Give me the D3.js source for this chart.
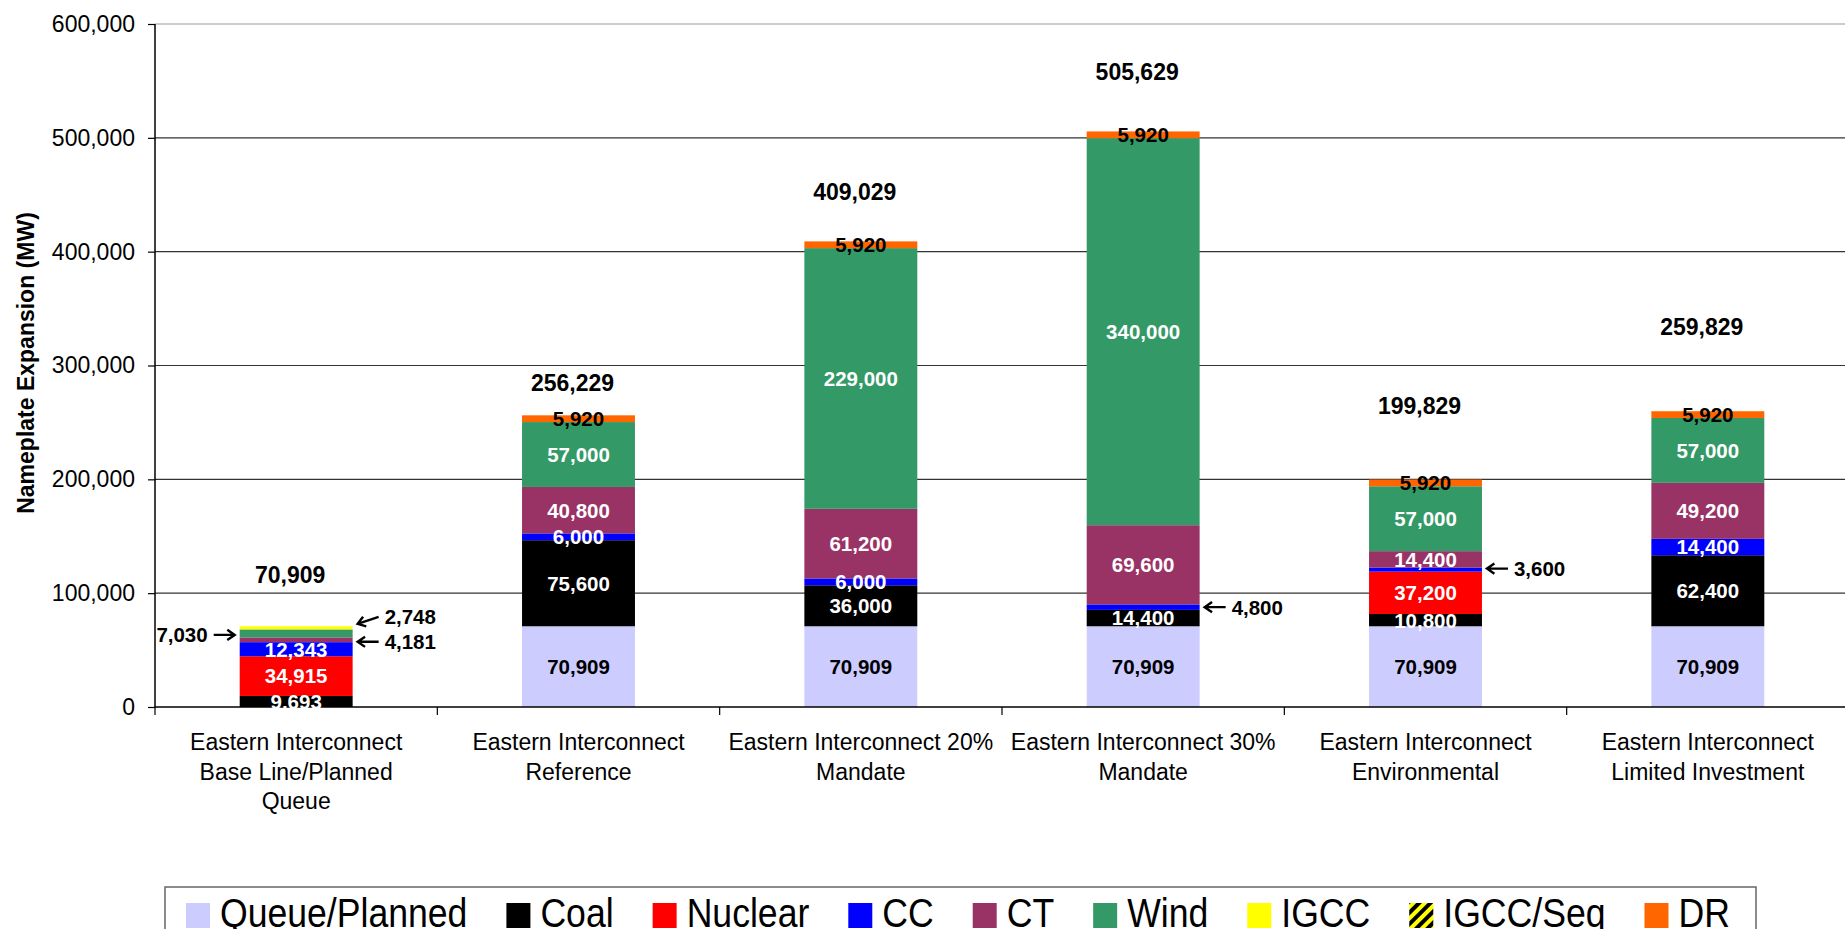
<!DOCTYPE html>
<html lang="en">
<head>
  <meta charset="utf-8">
  <title>Eastern Interconnect Nameplate Expansion</title>
  <script src="https://d3js.org/d3.v7.min.js"></script>
  <style>
    body { margin: 0; background: #fff; }
    svg { display: block; font-family: "Liberation Sans", Arial, sans-serif; }
  </style>
</head>
<body>
<script>
  // chart data (MW)
  const categories = [
    ["Eastern Interconnect", "Base Line/Planned", "Queue"],
    ["Eastern Interconnect", "Reference"],
    ["Eastern Interconnect 20%", "Mandate"],
    ["Eastern Interconnect 30%", "Mandate"],
    ["Eastern Interconnect", "Environmental"],
    ["Eastern Interconnect", "Limited Investment"]
  ];
  const seriesNames = ["Queue/Planned", "Coal", "Nuclear", "CC", "CT", "Wind", "IGCC", "IGCC/Seq", "DR"];
  const queuePlanned = [0, 70909, 70909, 70909, 70909, 70909];
  const coal         = [9693, 75600, 36000, 14400, 10800, 62400];
  const nuclear      = [34915, 0, 0, 0, 37200, 0];
  const cc           = [12343, 6000, 6000, 4800, 3600, 14400];
  const ct           = [4181, 40800, 61200, 69600, 14400, 49200];
  const wind         = [7030, 57000, 229000, 340000, 57000, 57000];
  const igcc         = [2748, 0, 0, 0, 0, 0];
  const igccSeq      = [0, 0, 0, 0, 0, 0];
  const dr           = [0, 5920, 5920, 5920, 5920, 5920];
  const totals       = [70909, 256229, 409029, 505629, 199829, 259829];
  const yTicks       = [0, 100000, 200000, 300000, 400000, 500000, 600000];

  const seriesValues = [queuePlanned, coal, nuclear, cc, ct, wind, igcc, igccSeq, dr];
  const colors = ["#ccccff", "#000000", "#ff0000", "#0000ff", "#993366", "#339966", "#ffff00", "url(#hatch)", "#ff6600"];
  const labelColors = ["#000", "#fff", "#fff", "#fff", "#fff", "#fff", "#000", "#000", "#000"];

  // rows for d3.stack
  const rows = categories.map((c, i) => {
    const r = { idx: i };
    seriesNames.forEach((s, j) => r[s] = seriesValues[j][i]);
    return r;
  });

  const W = 1845, H = 929;
  const svg = d3.select("body").append("svg").attr("width", W).attr("height", H);

  // hatched fill for IGCC/Seq
  svg.append("defs").append("pattern")
      .attr("id", "hatch").attr("patternUnits", "userSpaceOnUse")
      .attr("width", 8).attr("height", 8)
      .attr("patternTransform", "rotate(45)")
    .call(p => {
      p.append("rect").attr("width", 8).attr("height", 8).attr("fill", "#ffff00");
      p.append("rect").attr("width", 4).attr("height", 8).attr("fill", "#000");
    });

  const x = d3.scaleBand().domain(d3.range(categories.length))
      .range([155, 1849]).paddingInner(0.6).paddingOuter(0.3);
  const y = d3.scaleLinear().domain([0, 600000]).range([707, 24]);
  const step = x.step();

  // gridlines
  svg.append("g").selectAll("line")
    .data(yTicks.filter(t => t > 0))
    .join("line")
      .attr("x1", 155).attr("x2", 1849)
      .attr("y1", d => y(d)).attr("y2", d => y(d))
      .attr("stroke", d => d === 600000 ? "#999" : "#333")
      .attr("stroke-width", 1.2);

  // stacked bars
  const stacked = d3.stack().keys(seriesNames)(rows);
  const layers = svg.append("g").selectAll("g")
    .data(stacked)
    .join("g")
      .attr("fill", (d, i) => colors[i]);

  layers.selectAll("rect")
    .data(d => d.filter(s => s[1] - s[0] > 0))
    .join("rect")
      .attr("x", d => x(d.data.idx))
      .attr("width", x.bandwidth())
      .attr("y", d => y(d[1]))
      .attr("height", d => y(d[0]) - y(d[1]));

  // axes
  const yAxis = svg.append("g")
      .attr("transform", "translate(155,0)")
      .call(d3.axisLeft(y).tickValues(yTicks).tickFormat(d3.format(",")).tickSize(7).tickPadding(13));
  yAxis.select(".domain").attr("d", "M0,24V707").attr("stroke", "#000").attr("stroke-width", 1.5);
  yAxis.selectAll(".tick line").attr("stroke", "#000").attr("stroke-width", 1.2);
  yAxis.selectAll(".tick text").attr("font-size", 23).attr("fill", "#000")
      .attr("font-family", "Liberation Sans, Arial, sans-serif");

  svg.append("line").attr("x1", 155).attr("x2", 1849).attr("y1", y(0)).attr("y2", y(0))
      .attr("stroke", "#000").attr("stroke-width", 1.5);
  svg.append("g").selectAll("line")
    .data(d3.range(categories.length + 1))
    .join("line")
      .attr("x1", i => 155 + i * step).attr("x2", i => 155 + i * step)
      .attr("y1", y(0)).attr("y2", y(0) + 8)
      .attr("stroke", "#000").attr("stroke-width", 1.2);

  // category labels
  svg.append("g").selectAll("text")
    .data(categories)
    .join("text")
      .attr("x", (d, i) => x(i) + x.bandwidth() / 2)
      .attr("y", 750)
      .attr("text-anchor", "middle")
      .attr("font-size", 23)
    .selectAll("tspan")
    .data(d => d)
    .join("tspan")
      .attr("x", function () { return this.parentNode.getAttribute("x"); })
      .attr("dy", (d, i) => i === 0 ? 0 : 29.5)
      .text(d => d);

  // y title
  svg.append("text")
      .attr("transform", "translate(34,363) rotate(-90)")
      .attr("text-anchor", "middle")
      .attr("font-size", 23).attr("font-weight", "bold")
      .text("Nameplate Expansion (MW)");

  // segments labelled outside with an arrow: [bar, series, side, text dy, tip dy]
  const outside = [
    [0, "Wind", -1, 1.5, 1.5],
    [0, "CT", 1, 2, 2],
    [0, "IGCC", 1, -11, -4],
    [3, "CC", 1, 0, 0],
    [4, "CC", 1, -1, -1]
  ];
  const isOutside = (bar, key) => outside.some(o => o[0] === bar && o[1] === key);
  const fmt = d3.format(",");

  // in-bar labels
  stacked.forEach((layer, j) => {
    svg.append("g").selectAll("text")
      .data(layer.filter(s => s[1] - s[0] > 0 && !isOutside(s.data.idx, layer.key)))
      .join("text")
        .attr("x", d => x(d.data.idx) + x.bandwidth() / 2)
        .attr("y", d => (y(d[0]) + y(d[1])) / 2)
        .attr("dy", "0.36em")
        .attr("text-anchor", "middle")
        .attr("font-size", 20.5).attr("font-weight", "bold")
        .attr("fill", labelColors[j])
        .text(d => fmt(d[1] - d[0]));
  });

  // arrow labels
  outside.forEach(([bar, key, side, dy, tipDy]) => {
    const s = stacked.find(l => l.key === key)[bar];
    const cy = (y(s[0]) + y(s[1])) / 2;
    const edge = side > 0 ? x(bar) + x.bandwidth() : x(bar);
    const tipX = edge + side * 5, tipY = cy + tipDy;
    const tailX = tipX + side * 21, tailY = cy + dy;
    const ang = Math.atan2(tipY - tailY, tipX - tailX);
    const h = 9, spread = 0.6;
    const p = d3.path();
    p.moveTo(tailX, tailY); p.lineTo(tipX, tipY);
    p.moveTo(tipX - h * Math.cos(ang - spread), tipY - h * Math.sin(ang - spread));
    p.lineTo(tipX, tipY);
    p.lineTo(tipX - h * Math.cos(ang + spread), tipY - h * Math.sin(ang + spread));
    svg.append("path").attr("d", p.toString())
        .attr("fill", "none").attr("stroke", "#000").attr("stroke-width", 2.4);
    svg.append("text")
        .attr("x", tailX + side * 6).attr("y", tailY).attr("dy", "0.36em")
        .attr("text-anchor", side > 0 ? "start" : "end")
        .attr("font-size", 20.5).attr("font-weight", "bold")
        .text(fmt(s[1] - s[0]));
  });

  // totals above bars
  const totalLift = [52, 33, 50, 60, 74, 85];
  svg.append("g").selectAll("text")
    .data(totals)
    .join("text")
      .attr("x", (d, i) => x(i) + x.bandwidth() / 2 - 6)
      .attr("y", (d, i) => y(d3.sum(seriesValues, v => v[i])) - totalLift[i])
      .attr("dy", "0.36em")
      .attr("text-anchor", "middle")
      .attr("font-size", 23).attr("font-weight", "bold")
      .text(d => fmt(d));

  // legend
  const legend = svg.append("g");
  legend.append("rect")
      .attr("x", 165).attr("y", 887).attr("width", 1591).attr("height", 60)
      .attr("fill", "#fff").attr("stroke", "#666").attr("stroke-width", 1.5);
  let lx = 186;
  seriesNames.forEach((name, i) => {
    legend.append("rect")
        .attr("x", lx).attr("y", 903).attr("width", 24).attr("height", 25)
        .attr("fill", colors[i]);
    const g = legend.append("g").attr("transform", `translate(${lx + 34},927) scale(0.89,1)`);
    const t = g.append("text").attr("font-size", 40).text(name);
    lx += 34 + t.node().getComputedTextLength() * 0.89 + 39;
  });
</script>
</body>
</html>
